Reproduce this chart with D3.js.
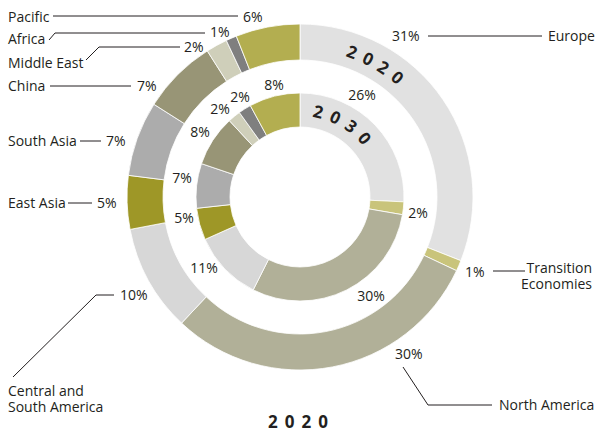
<!DOCTYPE html>
<html>
<head>
<meta charset="utf-8">
<script src="https://cdn.jsdelivr.net/npm/d3@7"></script>
<style>
  body { margin: 0; background: #fff; }
  svg text { font-family: "Open Sans", sans-serif; fill: #231f20; }
  .lbl { font-size: 14px; }
  .year { font-size: 17px; font-weight: bold; letter-spacing: 7px; }
  .lead { stroke: #231f20; stroke-width: 1; fill: none; }
</style>
</head>
<body>
<div id="chart"></div>
<script>
// regions, clockwise from 12 o'clock
const regions = ["Europe", "Transition Economies", "North America", "Central and South America",
    "East Asia", "South Asia", "China", "Middle East", "Africa", "Pacific"];
const share2020 = [31, 1, 30, 10, 5, 7, 7, 2, 1, 6];
const share2030 = [26, 2, 30, 11, 5, 7, 8, 2, 2, 8];
const colors = ["#e1e1e1", "#c9c47b", "#b1b098", "#d7d7d7", "#9e9727",
    "#acacac", "#989576", "#cfcfba", "#7f7f7f", "#b3ae50"];

// layout of the callouts (pixel positions, not data)
const outerLabels = [
    {pct: [392, 36], line: [[428, 36], [542, 36]], name: ["Europe"], at: [548, 36], anchor: "start"},
    {pct: [465, 272], line: [[493, 271], [525, 271]], name: ["Transition", "Economies"], at: [592, 268], anchor: "end"},
    {pct: [395, 354], line: [[403, 367], [428, 405], [492, 405]], name: ["North America"], at: [499, 405], anchor: "start"},
    {pct: [120, 295], line: [[114, 295], [96, 295], [13, 377]], name: ["Central and", "South America"], at: [8, 391], anchor: "start"},
    {pct: [97, 203], line: [[68, 203], [92, 203]], name: ["East Asia"], at: [8, 203], anchor: "start"},
    {pct: [106, 141], line: [[80, 141], [101, 141]], name: ["South Asia"], at: [8, 141], anchor: "start"},
    {pct: [137, 86], line: [[50, 86], [131, 86]], name: ["China"], at: [8, 86], anchor: "start"},
    {pct: [184, 47], line: [[86, 60], [99, 47], [180, 47]], name: ["Middle East"], at: [8, 63], anchor: "start"},
    {pct: [210, 32], line: [[49, 40], [55, 33], [205, 33]], name: ["Africa"], at: [8, 39], anchor: "start"},
    {pct: [243, 17], line: [[53, 16], [238, 16]], name: ["Pacific"], at: [8, 17], anchor: "start"}
];
const innerLabelPos = [[362, 95], [418, 213], [371, 296], [204, 268], [184, 218],
    [182, 178], [200, 132], [220, 109], [240, 97], [274, 85]];

const width = 597, height = 432;
const cx = 300, cy = 197;

const svg = d3.select("#chart").append("svg")
    .attr("width", width)
    .attr("height", height);

const pie = d3.pie().sort(null).value(d => d);

function ring(values, r0, r1, cls) {
    let arc = d3.arc().innerRadius(r0).outerRadius(r1);
    svg.append("g")
        .attr("class", cls)
        .attr("transform", `translate(${cx}, ${cy})`)
        .selectAll("path")
        .data(pie(values))
        .join("path")
        .attr("d", arc)
        .attr("fill", (d, i) => colors[i])
        .attr("stroke", "#fff")
        .attr("stroke-width", 0.8);
}

ring(share2020, 137, 173, "outer");
ring(share2030, 70, 104, "inner");

// curved year labels
function yearOnArc(id, r, offset, txt) {
    let path = d3.path();
    path.arc(0, 0, r, -Math.PI / 2, Math.PI / 2);
    let g = svg.append("g").attr("transform", `translate(${cx}, ${cy})`);
    g.append("path").attr("id", id).attr("d", path.toString()).attr("fill", "none");
    g.append("text").attr("class", "year")
        .append("textPath")
        .attr("href", "#" + id)
        .attr("startOffset", offset)
        .text(txt);
}
yearOnArc("arc2020", 148, 46, "2020");
yearOnArc("arc2030", 81, 12, "2030");

// outer callouts
const line = d3.line();
outerLabels.forEach((o, i) => {
    svg.append("path").attr("class", "lead").attr("d", line(o.line));
    svg.append("text").attr("class", "lbl")
        .attr("x", o.pct[0]).attr("y", o.pct[1])
        .attr("dy", "0.35em")
        .text(share2020[i] + "%");
    o.name.forEach((n, k) => {
        svg.append("text").attr("class", "lbl")
            .attr("x", o.at[0]).attr("y", o.at[1] + k * 16)
            .attr("dy", "0.35em")
            .attr("text-anchor", o.anchor)
            .text(n);
    });
});

// inner ring values
svg.append("g").selectAll("text")
    .data(share2030)
    .join("text")
    .attr("class", "lbl")
    .attr("x", (d, i) => innerLabelPos[i][0])
    .attr("y", (d, i) => innerLabelPos[i][1])
    .attr("dy", "0.35em")
    .attr("text-anchor", "middle")
    .text(d => d + "%");

// bottom title
svg.append("text").attr("class", "year")
    .attr("x", 268).attr("y", 428)
    .text("2020");
</script>
</body>
</html>
